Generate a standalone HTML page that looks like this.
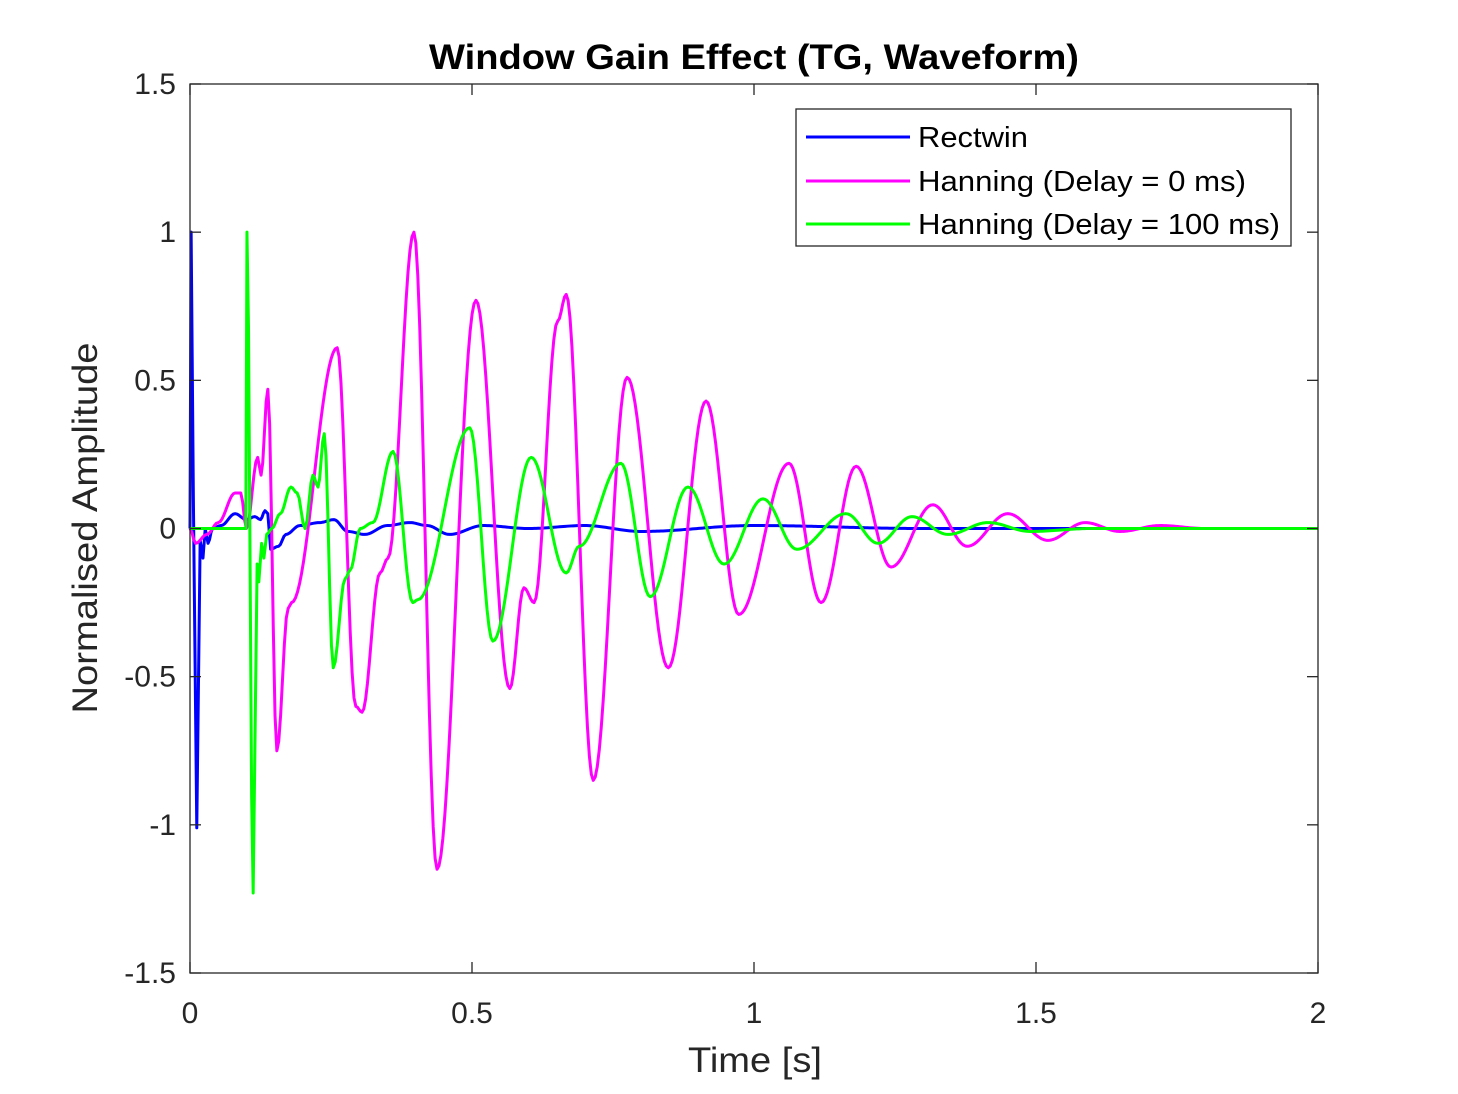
<!DOCTYPE html>
<html><head><meta charset="utf-8"><style>
body{margin:0;background:#fff;}
svg{display:block;font-family:"Liberation Sans",Arial,sans-serif;}
</style></head><body>
<svg id="chart" width="1458" height="1094" viewBox="0 0 1458 1094" xmlns="http://www.w3.org/2000/svg">
<rect width="1458" height="1094" fill="#fff"/>
<text x="754" y="69" text-anchor="middle" font-size="35" font-weight="bold" fill="#000" textLength="650" lengthAdjust="spacingAndGlyphs">Window Gain Effect (TG, Waveform)</text>
<g id="series"></g>
<g id="axes"></g>
<text x="755" y="1072" text-anchor="middle" font-size="35" fill="#262626" textLength="134" lengthAdjust="spacingAndGlyphs">Time [s]</text>
<text transform="translate(97,528) rotate(-90)" text-anchor="middle" font-size="35" fill="#262626" textLength="371" lengthAdjust="spacingAndGlyphs">Normalised Amplitude</text>
<g>
<rect x="796" y="109" width="495" height="137" fill="#fff" stroke="#262626" stroke-width="1.3"/>
<line x1="806" y1="137" x2="910" y2="137" stroke="#0000ff" stroke-width="3"/>
<text x="918" y="147" font-size="29" fill="#000" textLength="110" lengthAdjust="spacingAndGlyphs">Rectwin</text>
<line x1="806" y1="181" x2="910" y2="181" stroke="#ff00ff" stroke-width="3"/>
<text x="918" y="191" font-size="29" fill="#000" textLength="328" lengthAdjust="spacingAndGlyphs">Hanning (Delay = 0 ms)</text>
<line x1="806" y1="224" x2="910" y2="224" stroke="#00ff00" stroke-width="3"/>
<text x="918" y="234" font-size="29" fill="#000" textLength="362" lengthAdjust="spacingAndGlyphs">Hanning (Delay = 100 ms)</text>
</g>
</svg>
<script>
const xTicks=[0,0.5,1,1.5,2];
const xTickLabels=["0","0.5","1","1.5","2"];
const yTicks=[-1.5,-1,-0.5,0,0.5,1,1.5];
const yTickLabels=["-1.5","-1","-0.5","0","0.5","1","1.5"];
const rectT=[0,0.002,0.006,0.012,0.018,0.023,0.027,0.032,0.04,0.055,0.08,0.1,0.115,0.125,0.133,0.138,0.143,0.157,0.17,0.195,0.23,0.255,0.28,0.31,0.35,0.39,0.42,0.46,0.52,0.6,0.7,0.8,1.0,1.3,2.0];
const rectV=[0,1.0,0.1,-1.01,-0.04,-0.1,0,-0.05,0,0.01,0.05,0.03,0.04,0.03,0.06,0.05,-0.07,-0.06,-0.02,0.01,0.02,0.03,-0.01,-0.02,0.01,0.02,0.01,-0.02,0.01,0.0,0.01,-0.01,0.01,0.0,0];
const hanT=[0,0.01,0.03,0.05,0.08,0.09,0.1,0.12,0.126,0.138,0.154,0.174,0.18,0.261,0.294,0.305,0.337,0.351,0.397,0.438,0.507,0.567,0.592,0.61,0.652,0.667,0.715,0.775,0.848,0.915,0.973,1.062,1.119,1.181,1.243,1.317,1.378,1.45,1.521,1.587,1.649,1.72,1.8,2.0];
const hanV=[0,-0.05,-0.02,0.02,0.12,0.12,0.0,0.24,0.18,0.47,-0.75,-0.27,-0.25,0.61,-0.6,-0.62,-0.15,-0.1,1.0,-1.15,0.77,-0.54,-0.2,-0.25,0.7,0.79,-0.85,0.51,-0.47,0.43,-0.29,0.22,-0.25,0.21,-0.13,0.08,-0.06,0.05,-0.04,0.02,-0.01,0.01,0,0];
const delT=[0,0.099,0.101,0.112,0.119,0.122,0.127,0.131,0.136,0.145,0.16,0.179,0.19,0.204,0.218,0.227,0.238,0.254,0.275,0.284,0.302,0.324,0.36,0.395,0.404,0.496,0.537,0.605,0.667,0.69,0.764,0.816,0.883,0.947,1.016,1.076,1.163,1.22,1.28,1.344,1.415,1.49,1.6,2.0];
const delV=[0,0,1.0,-1.23,-0.12,-0.18,-0.05,-0.1,-0.02,0.0,0.05,0.14,0.12,0.0,0.18,0.14,0.32,-0.47,-0.17,-0.14,0.0,0.02,0.26,-0.25,-0.24,0.34,-0.38,0.24,-0.15,-0.06,0.22,-0.23,0.14,-0.12,0.1,-0.07,0.05,-0.05,0.04,-0.02,0.02,-0.01,0,0];
const X0=190,X1=1318,Y0=973,Y1=84;
const xs=t=>X0+(t-0)/(2-0)*(X1-X0);
const ys=v=>Y0-(v+1.5)/3*(Y0-Y1);
const NS="http://www.w3.org/2000/svg";
function pathFor(T,V){
  let d="M"+xs(T[0]).toFixed(2)+","+ys(V[0]).toFixed(2);
  for(let i=0;i<T.length-1;i++){
    const n=Math.max(2,Math.ceil((xs(T[i+1])-xs(T[i]))/2));
    for(let k=1;k<=n;k++){
      const f=k/n, w=(1-Math.cos(Math.PI*f))/2;
      const t=T[i]+(T[i+1]-T[i])*f, v=V[i]+(V[i+1]-V[i])*w;
      d+=" L"+xs(t).toFixed(2)+","+ys(v).toFixed(2);
    }
  }
  return d;
}
const sg=document.getElementById('series');
[[rectT,rectV,'#0000ff','series-rectwin'],[hanT,hanV,'#ff00ff','series-hanning-0'],[delT,delV,'#00ff00','series-hanning-100']].forEach(s=>{
  const p=document.createElementNS(NS,'path');
  p.setAttribute('d',pathFor(s[0],s[1]));
  p.setAttribute('fill','none');p.setAttribute('stroke',s[2]);p.setAttribute('stroke-width','3');p.setAttribute('stroke-linejoin','round');
  
  
  sg.appendChild(p);
});
const ag=document.getElementById('axes');
const box=document.createElementNS(NS,'rect');
box.setAttribute('x',X0);box.setAttribute('y',Y1);box.setAttribute('width',X1-X0);box.setAttribute('height',Y0-Y1);
box.setAttribute('fill','none');box.setAttribute('stroke','#262626');box.setAttribute('stroke-width','1.3');


ag.appendChild(box);
function ln(x1,y1,x2,y2){const l=document.createElementNS(NS,'line');l.setAttribute('x1',x1);l.setAttribute('y1',y1);l.setAttribute('x2',x2);l.setAttribute('y2',y2);l.setAttribute('stroke','#262626');l.setAttribute('stroke-width','1.3');ag.appendChild(l);return l;}
function tx(x,y,s,a){const t=document.createElementNS(NS,'text');t.setAttribute('x',x);t.setAttribute('y',y);t.setAttribute('text-anchor',a);t.setAttribute('font-size','30');t.setAttribute('fill','#262626');t.textContent=s;ag.appendChild(t);return t;}
xTicks.forEach((v,i)=>{const x=xs(v);
  const a=ln(x,Y0,x,Y0-11);
  const b=ln(x,Y1,x,Y1+11);
  const t=tx(x,1023,xTickLabels[i],'middle');
});
yTicks.forEach((v,i)=>{const y=ys(v);
  const a=ln(X0,y,X0+11,y);
  const b=ln(X1,y,X1-11,y);
  const t=tx(176,y+10,yTickLabels[i],'end');
});
</script>
</body></html>
